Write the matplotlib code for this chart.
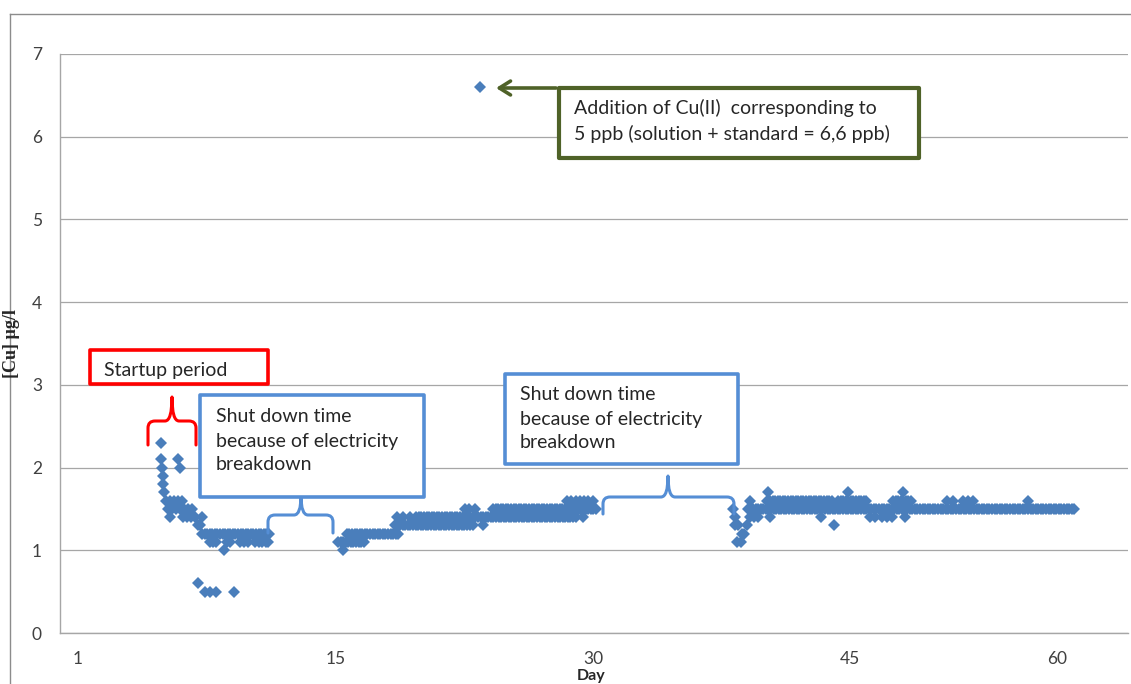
import numpy as np
import matplotlib
matplotlib.use("Agg")
import matplotlib.pyplot as plt
from matplotlib.path import Path
from matplotlib.patches import PathPatch, Rectangle, FancyArrowPatch

W, H = 1131, 684

# x positions are along the (category-like) day axis
day_ticks = [1.05, 16.11, 31.12, 46.12, 58.2]
day_labels = ["1", "15", "30", "45", "60"]

# dense stretches of identical readings: start, end, level (µg/l)
run_start = [8.29, 16.23, 16.75, 19.56, 20.8, 25.28, 40.16, 41.3, 45.42, 48.63]
run_end = [12.26, 17.80, 19.85, 24.0, 30.2, 31.41, 59.25, 45.13, 47.11, 49.8]
run_level = [1.2, 1.1, 1.2, 1.3, 1.4, 1.5, 1.5, 1.6, 1.6, 1.6]
run_step = 0.15  # logger interval on this axis

# single readings
pt_x = [5.90, 5.90, 5.95, 6.01, 6.01, 6.07, 6.19, 6.42, 6.66, 6.89, 7.12, 6.89, 7.01,
        6.30, 6.54, 6.77, 7.01, 7.24, 7.47, 7.71,
        6.42, 7.18, 7.41, 7.65, 7.88, 8.29, 8.06, 8.17,
        8.76, 8.93, 9.11, 9.75, 9.93, 10.51, 10.74, 10.97, 11.38, 11.6, 11.8, 12.0, 12.14,
        9.57, 8.06, 8.46, 8.76, 9.11, 10.16,
        24.5,
        16.52, 19.67, 20.0, 20.43, 23.64, 23.9, 24.23, 24.1, 24.7,
        29.6, 29.85, 30.1, 30.35, 30.6, 30.85, 31.12, 30.53,
        39.29, 39.40, 39.40, 39.58, 39.81, 39.52, 39.75, 39.93, 40.1, 40.28,
        40.5, 40.75, 41.45, 44.4, 47.3, 47.6, 48.0, 48.3, 48.6, 49.33,
        45.2,
        40.28, 51.78, 52.13, 52.72, 53.0, 53.3, 56.51,
        41.33, 46.0, 49.21]
pt_y = [2.3, 2.1, 2.0, 1.9, 1.8, 1.7, 1.6, 1.6, 1.6, 1.6, 1.6, 2.1, 2.0,
        1.5, 1.5, 1.5, 1.5, 1.5, 1.5, 1.5,
        1.4, 1.4, 1.4, 1.4, 1.4, 1.4, 1.3, 1.3,
        1.1, 1.1, 1.1, 1.1, 1.1, 1.1, 1.1, 1.1, 1.1, 1.1, 1.1, 1.1, 1.1,
        1.0, 0.6, 0.5, 0.5, 0.5, 0.5,
        6.6,
        1.0, 1.4, 1.4, 1.4, 1.5, 1.5, 1.5, 1.3, 1.3,
        1.6, 1.6, 1.6, 1.6, 1.6, 1.6, 1.6, 1.4,
        1.5, 1.4, 1.3, 1.3, 1.2, 1.1, 1.1, 1.2, 1.3, 1.4,
        1.4, 1.4, 1.4, 1.4, 1.4, 1.4, 1.4, 1.4, 1.4, 1.4,
        1.3,
        1.6, 1.6, 1.6, 1.6, 1.6, 1.6, 1.6,
        1.7, 1.7, 1.7]

MARK = "#4a7ebb"
BLUE = "#558ed5"
RED = "#ff0000"
GREEN = "#4f6228"
TXT = "#262626"
FONT = "Lato"


def fx(px):
    return px / W


def fy(py):
    return 1 - py / H


def brace(fig, x0, x1, xc, y_end, y_mid, y_tip, color, r=7):
    pts = [(x0, y_end), (x0, y_mid + r), (x0, y_mid), (x0 + r, y_mid),
           (xc - r, y_mid), (xc, y_mid), (xc, y_tip),
           (xc, y_mid), (xc + r, y_mid),
           (x1 - r, y_mid), (x1, y_mid), (x1, y_mid + r), (x1, y_end)]
    codes = [Path.MOVETO, Path.LINETO, Path.CURVE3, Path.CURVE3,
             Path.LINETO, Path.CURVE3, Path.CURVE3,
             Path.CURVE3, Path.CURVE3,
             Path.LINETO, Path.CURVE3, Path.CURVE3, Path.LINETO]
    verts = [(fx(a), fy(b)) for a, b in pts]
    fig.add_artist(PathPatch(Path(verts, codes), transform=fig.transFigure,
                             facecolor="none", edgecolor=color, lw=2.2,
                             capstyle="round", joinstyle="round"))


def box(fig, x0, y0, x1, y1, color, lw=2.6):
    fig.add_artist(Rectangle((fx(x0), fy(y1)), fx(x1) - fx(x0), fy(y0) - fy(y1),
                             transform=fig.transFigure, facecolor="white",
                             edgecolor=color, lw=lw, joinstyle="round"))


def main():
    xs = list(pt_x)
    ys = list(pt_y)
    for a, b, lev in zip(run_start, run_end, run_level):
        t = np.arange(a, b + 1e-9, run_step)
        xs.extend(t)
        ys.extend([lev] * len(t))

    fig = plt.figure(figsize=(W / 100, H / 100), dpi=100)
    ax = fig.add_axes([fx(60), fy(633), fx(1128) - fx(60), fy(54) - fy(633)])

    ax.plot(xs, ys, linestyle="none", marker="D", ms=5.8, color=MARK,
            markeredgewidth=0)

    ax.set_xlim(0, 62.35)
    ax.set_ylim(0, 7)
    ax.set_yticks(range(8))
    ax.set_xticks(day_ticks)
    ax.set_xticklabels(day_labels)
    ax.grid(axis="y", color="#a6a6a6", lw=0.9)
    ax.set_axisbelow(True)
    for s in ["top", "right"]:
        ax.spines[s].set_visible(False)
    for s in ["left", "bottom"]:
        ax.spines[s].set_color("#a6a6a6")
        ax.spines[s].set_linewidth(1.0)
    ax.tick_params(length=0, labelsize=12.5, colors="#404040", pad=13)
    ax.tick_params(axis="x", pad=13)
    for lab in ax.get_xticklabels() + ax.get_yticklabels():
        lab.set_fontfamily(FONT)

    fig.text(fx(12), fy(344), "[Cu] µg/l", rotation=90, ha="center", va="center",
             fontsize=13, fontweight="bold", family="Liberation Serif", color=TXT)
    fig.text(fx(591), fy(676), "Day", ha="center", va="center",
             fontsize=11.5, fontweight="bold", family=FONT, color=TXT)

    # outer chart frame
    fig.add_artist(plt.Line2D([fx(10), fx(10)], [fy(14), 0], transform=fig.transFigure,
                              color="#8c8c8c", lw=1))
    fig.add_artist(plt.Line2D([fx(10), 1], [fy(14), fy(14)], transform=fig.transFigure,
                              color="#8c8c8c", lw=1))

    # startup period
    box(fig, 90, 350, 268, 384, RED)
    fig.text(fx(104), fy(370), "Startup period", ha="left", va="center",
             fontsize=14, family=FONT, color=TXT)
    brace(fig, 148, 196, 172, 445, 421, 397, RED)

    # shut down periods
    brace(fig, 268, 333, 301, 533, 515, 496, BLUE)
    box(fig, 200, 395, 424, 497, BLUE)
    fig.text(fx(216), fy(441), "Shut down time\nbecause of electricity\nbreakdown",
             ha="left", va="center", fontsize=14, family=FONT, color=TXT,
             linespacing=1.5)
    brace(fig, 603, 734, 668, 514, 497, 476, BLUE)
    box(fig, 505, 374, 738, 464, BLUE)
    fig.text(fx(520), fy(419), "Shut down time\nbecause of electricity\nbreakdown",
             ha="left", va="center", fontsize=14, family=FONT, color=TXT,
             linespacing=1.5)

    # Cu(II) addition
    fig.add_artist(FancyArrowPatch((fx(556), fy(88)), (fx(496), fy(88)),
                                   transform=fig.transFigure, arrowstyle="->,head_length=8,head_width=5",
                                   color=GREEN, lw=2.6, shrinkA=0, shrinkB=0))
    box(fig, 559, 88, 919, 158, GREEN, lw=3)
    fig.text(fx(574), fy(121), "Addition of Cu(II)  corresponding to\n5 ppb (solution + standard = 6,6 ppb)",
             ha="left", va="center", fontsize=14, family=FONT, color=TXT,
             linespacing=1.5)

    fig.savefig("out.png", dpi=100)
    plt.close(fig)


if __name__ == "__main__":
    main()
